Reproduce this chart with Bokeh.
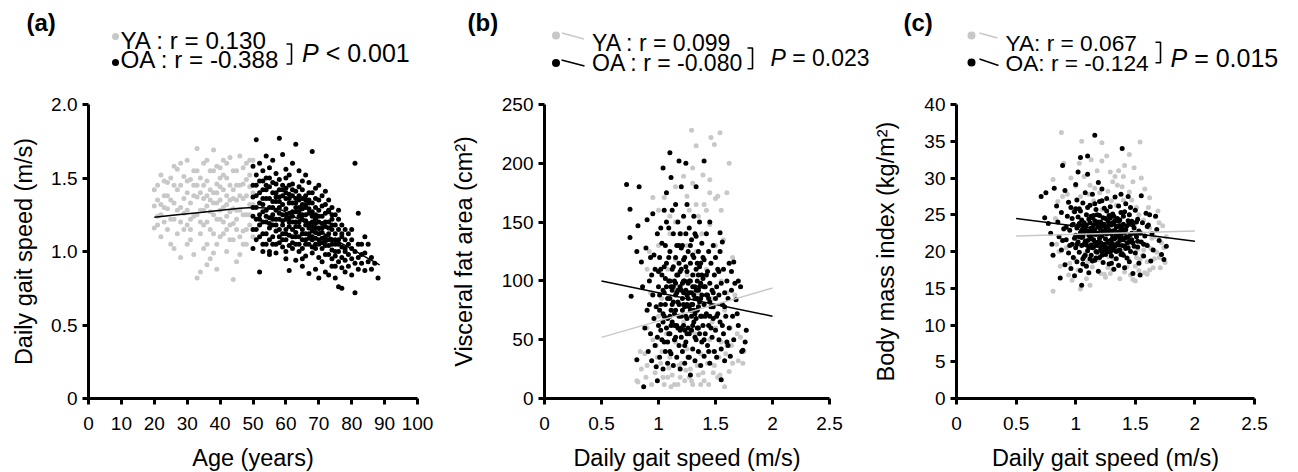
from bokeh.plotting import figure
from bokeh.layouts import row, column
from bokeh.models import Range1d, FixedTicker, Label
from bokeh.embed import file_html
from bokeh.resources import INLINE

# ---------------- data ----------------
# (a) Age (years) vs daily gait speed (m/s)
a_ya = [(20,1.31),(20,1.16),(21,1.45),(21,1.24),(22,1.52),(22,1.10),(23,1.38),(23,1.20),(24,1.29),(24,1.47),
        (25,1.05),(25,1.35),(26,1.58),(26,1.22),(27,1.42),(27,1.12),(28,1.30),(28,0.96),(29,1.51),(29,1.26),
        (30,1.62),(30,1.18),(30,1.40),(31,1.33),(31,1.08),(32,1.55),(32,1.24),(33,1.70),(33,0.82),(33,1.45),
        (34,1.28),(34,0.86),(34,1.12),(35,1.60),(35,1.36),(35,1.02),(36,1.48),(36,1.20),(36,1.31),(37,1.55),
        (37,1.15),(37,0.95),(38,1.69),(38,1.40),(38,1.25),(39,1.33),(39,1.05),(39,0.88),(40,1.57),(40,1.22),
        (40,1.44),(41,1.30),(41,1.12),(41,1.62),(42,1.38),(42,1.00),(42,1.50),(43,1.27),(43,1.18),(43,1.64),
        (44,0.81),(44,1.42),(44,1.08),(45,1.35),(45,1.55),(45,1.22),(46,1.65),(46,1.28),(46,0.98),(47,1.46),
        (47,1.14),(47,1.36),(48,1.60),(48,1.25),(48,1.05),(49,1.52),(49,1.32),(49,1.18),(50,1.40),(50,1.10),
        (50,1.62),(31,1.49),(33,1.37),(35,1.18),(37,1.27),(39,1.58),(41,1.42),(43,1.35),(45,0.93),(47,1.57),
        (49,1.44),(36,0.91),(40,1.10),(44,1.29),(46,1.45),(48,1.38),(28,1.45),(26,1.33),(24,1.15),(22,1.32),
        (38,1.12),(42,1.24),(32,0.98),(29,1.15),(27,1.56),(34,1.50),(36,1.62),(38,0.99),(40,1.35),(42,1.60),
        (44,1.19),(46,1.10),(48,1.49),(30,1.28),(32,1.38),(26,1.02),(23,1.48),(21,1.35),(39,1.46),(45,1.45),
        (20,1.42),(21,1.18),(22,1.25),(23,1.30),(24,1.38),(25,1.22),(25,1.50),(26,1.45),(27,1.28),(28,1.20),
        (29,1.36),(30,1.48),(31,1.22),(32,1.45),(33,1.25),(34,1.40),(35,1.28),(36,1.38),(37,1.42),(38,1.33),
        (39,1.22),(40,1.28),(41,1.52),(42,1.32),(43,1.45),(44,1.36),(45,1.28),(46,1.38),(47,1.25),(48,1.15),
        (49,1.25),(50,1.32),(31,1.15),(33,1.55),(35,1.45),(37,1.35),(39,1.40),(41,1.20),(43,1.08),(45,1.15),
        (47,1.05),(49,1.62),(36,1.05),(40,1.50),(44,1.55),(28,1.60),(30,1.05),(34,1.20),(38,1.55),(42,1.15)]
a_oa = [(50,1.58),(50,1.45),(50,1.30),(50,1.15),(50,1.02),(51,1.76),(51,1.52),(51,1.38),(51,1.22),(51,1.08),
        (52,1.60),(52,1.48),(52,1.33),(52,1.18),(52,0.86),(53,1.55),(53,1.42),(53,1.27),(53,1.12),(53,1.00),
        (54,1.65),(54,1.50),(54,1.36),(54,1.20),(54,1.05),(55,1.57),(55,1.44),(55,1.30),(55,1.16),(55,0.98),
        (56,1.62),(56,1.47),(56,1.34),(56,1.25),(56,1.10),(57,1.53),(57,1.40),(57,1.28),(57,1.14),(57,0.99),
        (58,1.77),(58,1.49),(58,1.37),(58,1.22),(58,1.06),(59,1.66),(59,1.45),(59,1.32),(59,1.18),(59,1.03),
        (60,1.56),(60,1.43),(60,1.29),(60,1.15),(60,0.95),(61,1.52),(61,1.39),(61,1.26),(61,1.11),(61,0.87),
        (62,1.60),(62,1.46),(62,1.33),(62,1.20),(62,1.02),(63,1.73),(63,1.41),(63,1.27),(63,1.13),(63,0.94),
        (64,1.55),(64,1.44),(64,1.30),(64,1.17),(64,1.00),(65,1.48),(65,1.36),(65,1.22),(65,1.08),(65,0.90),
        (66,1.52),(66,1.38),(66,1.25),(66,1.12),(66,0.97),(67,1.47),(67,1.33),(67,1.19),(67,1.05),(67,0.85),
        (68,1.68),(68,1.40),(68,1.27),(68,1.14),(68,0.99),(69,1.43),(69,1.30),(69,1.16),(69,1.02),(69,0.88),
        (70,1.45),(70,1.28),(70,1.12),(70,0.96),(70,0.82),(71,1.38),(71,1.24),(71,1.09),(71,0.93),(72,1.41),
        (72,1.26),(72,1.10),(72,0.98),(72,0.86),(73,1.35),(73,1.20),(73,1.04),(73,0.84),(74,1.30),(74,1.15),
        (74,1.01),(74,0.90),(75,1.25),(75,1.12),(75,0.97),(75,0.82),(76,1.22),(76,1.08),(76,0.93),(76,0.76),
        (77,1.18),(77,1.03),(77,0.89),(77,0.75),(78,1.15),(78,1.02),(78,0.86),(79,1.12),(79,0.98),(80,1.08),
        (80,0.95),(80,0.84),(81,1.60),(81,1.00),(81,0.72),(82,1.26),(82,0.96),(82,0.88),(83,1.05),(83,0.92),
        (84,0.99),(84,0.87),(85,1.05),(85,0.93),(86,0.96),(87,0.92),(88,0.82),(52,1.25),(54,1.28),(56,1.40),
        (58,1.30),(60,1.22),(62,1.10),(64,1.24),(66,1.18),(68,1.20),(53,1.36),(57,1.22),(61,1.33),(63,1.20),
        (65,1.29),(67,1.26),(69,1.09),(55,1.23),(59,1.25),(71,1.16),(73,1.12),(74,1.22),(76,1.00),(78,0.94),
        (80,1.02),(51,1.45),(53,1.20),(55,1.50),(57,1.34),(59,1.12),(61,1.20),(63,1.36),(65,1.15),(67,1.40),
        (69,1.22),(71,1.31),(73,1.27),(75,1.05),(77,1.10),(79,1.05),(50,1.24),(52,1.40),(54,1.12),(56,1.18),
        (58,1.15),(60,1.36),(62,1.27),(64,1.38),(66,1.32),(68,1.08),(70,1.20),(72,1.17),(74,1.08),(76,1.15),
        (50,1.37),(51,1.30),(51,1.15),(52,1.10),(53,1.48),(54,1.42),(55,1.36),(55,1.08),(56,1.30),(57,1.46),
        (57,1.05),(58,1.42),(58,1.26),(59,1.38),(60,1.50),(60,1.08),(61,1.45),(61,1.17),(62,1.38),(62,1.15),
        (63,1.30),(63,1.05),(64,1.35),(64,1.10),(65,1.42),(65,1.02),(66,1.30),(66,1.05),(67,1.12),(67,1.35),
        (68,1.33),(68,1.03),(69,1.36),(69,1.25),(70,1.35),(70,1.05),(71,1.19),(71,1.02),(72,1.32),(72,1.04),
        (73,1.28),(73,0.98),(74,1.25),(74,0.95),(75,1.18),(75,0.90),(76,1.28),(77,1.12),(77,0.96),(78,1.08),
        (79,0.90),(80,1.15),(81,0.92),(82,1.05),(83,0.98),(84,1.10),(86,0.88),(55,1.00),(60,1.00),(65,0.95),
        (52,1.22),(53,1.05),(53,1.32),(54,1.24),(54,1.45),(55,1.19),(56,1.05),(56,1.22),(57,1.18),(57,1.37),
        (58,1.10),(58,1.34),(59,1.08),(59,1.21),(59,1.42),(60,1.12),(60,1.25),(60,1.40),(61,1.04),(61,1.23),
        (61,1.36),(62,1.06),(62,1.24),(62,1.42),(63,1.10),(63,1.17),(63,1.33),(64,1.05),(64,1.20),(64,1.27),
        (65,1.12),(65,1.25),(65,1.32),(66,1.08),(66,1.21),(66,1.35),(67,1.09),(67,1.16),(67,1.29),(68,1.10),
        (68,1.17),(68,1.24),(69,1.05),(69,1.13),(69,1.19),(70,1.08),(70,1.16),(70,1.24),(71,1.06),(71,1.13),
        (72,1.07),(72,1.20),(73,1.08),(73,1.16),(74,1.05),(74,1.18),(75,1.08),(75,1.00),(76,1.05),(78,1.00)]
a_fit_x = [20, 27, 34, 41, 46, 50, 54, 59, 64, 69, 74, 79, 84, 88.5]
a_fit_y = [1.233, 1.250, 1.265, 1.283, 1.295, 1.299, 1.296, 1.280, 1.218, 1.155, 1.090, 1.030, 0.965, 0.909]

# (b) Daily gait speed (m/s) vs visceral fat area (cm2)
b_ya = [(0.82,14),(0.88,38),(0.90,60),(0.92,125),(0.95,171),(0.97,22),(0.98,45),(1.00,160),(1.02,30),(1.03,85),
        (1.05,171),(1.05,12),(1.07,55),(1.08,110),(1.10,35),(1.10,140),(1.12,20),(1.13,75),(1.15,48),(1.15,118),
        (1.17,12),(1.18,95),(1.20,140),(1.20,30),(1.22,189),(1.22,65),(1.23,15),(1.25,105),(1.25,42),(1.27,160),
        (1.28,25),(1.28,80),(1.29,228),(1.30,196),(1.30,183),(1.30,12),(1.32,55),(1.33,165),(1.33,125),(1.33,215),
        (1.35,20),(1.35,90),(1.37,38),(1.38,140),(1.39,190),(1.40,70),(1.40,15),(1.42,110),(1.43,30),(1.45,186),
        (1.45,148),(1.45,50),(1.47,85),(1.48,22),(1.46,222),(1.50,170),(1.50,130),(1.50,60),(1.49,216),(1.52,172),
        (1.53,35),(1.54,226),(1.55,100),(1.55,48),(1.58,10),(1.58,75),(1.60,175),(1.60,45),(1.62,115),(1.63,60),
        (1.62,200),(1.65,30),(1.67,88),(1.70,32),(1.72,52),(1.75,40),(0.85,25),(0.93,90),(1.00,70),(1.08,18),
        (1.15,150),(1.18,28),(1.25,172),(1.27,18),(1.32,105),(1.37,12),(1.42,160),(1.48,40),(1.57,135),(1.62,23),
        (1.12,100),(1.40,95),(0.95,50),(1.20,80),(1.47,65),(0.81,15),(1.11,10),(0.90,28),(1.03,40),(1.52,18),
        (0.84,40),(0.89,18),(0.94,12),(0.99,35),(1.04,18),(1.09,26),(1.14,12),(1.19,18),(1.24,24),(1.29,15),
        (1.34,28),(1.39,22),(1.44,12),(1.49,28),(1.54,20),(1.59,38),(1.64,45),(1.69,55),(1.74,30),(1.60,90),
        (1.65,120),(1.55,160),(1.45,175),(1.35,155),(1.25,130),(1.10,155),(1.00,130),(0.90,110),(1.15,180),(1.40,165)]
b_oa = [(0.72,182),(0.75,161),(0.83,180),(0.75,137),(0.82,147),(0.81,125),(0.85,116),(1.10,209),(1.18,202),(1.24,200),
        (1.40,202),(1.04,196),(1.11,188),(1.20,180),(1.33,180),(1.66,116),(1.54,141),(1.56,133),(0.76,87),(0.81,33),
        (0.87,10),(0.99,15),(1.55,16),(1.74,41),(1.76,48),(1.67,98),(1.70,100),(0.86,95),(0.88,60),(0.89,128),
        (0.90,152),(0.90,75),(0.91,40),(0.92,100),(0.93,120),(0.93,55),(0.94,32),(0.95,88),(0.95,157),(0.96,68),
        (0.97,110),(0.97,45),(0.98,27),(0.99,140),(1.00,95),(1.00,62),(1.01,120),(1.01,35),(1.02,80),(1.02,145),
        (1.03,50),(1.03,105),(1.04,25),(1.04,72),(1.05,160),(1.05,90),(1.06,130),(1.06,40),(1.07,115),(1.07,60),
        (1.07,175),(1.08,85),(1.08,30),(1.09,100),(1.09,145),(1.10,55),(1.10,70),(1.10,125),(1.11,95),(1.11,38),
        (1.12,160),(1.12,110),(1.12,65),(1.13,82),(1.13,140),(1.13,28),(1.14,100),(1.14,50),(1.15,120),(1.15,75),
        (1.15,165),(1.16,90),(1.16,35),(1.16,130),(1.17,60),(1.17,105),(1.17,150),(1.18,45),(1.18,80),(1.18,115),
        (1.19,95),(1.19,25),(1.19,140),(1.20,70),(1.20,110),(1.20,52),(1.21,85),(1.21,130),(1.21,40),(1.22,100),
        (1.22,155),(1.22,62),(1.23,120),(1.23,78),(1.23,30),(1.24,92),(1.24,140),(1.24,48),(1.25,108),(1.25,68),
        (1.25,165),(1.26,85),(1.26,35),(1.26,125),(1.27,55),(1.27,100),(1.27,145),(1.28,75),(1.28,20),(1.28,115),
        (1.29,90),(1.29,58),(1.29,135),(1.30,42),(1.30,105),(1.30,80),(1.31,120),(1.31,65),(1.31,155),(1.32,95),
        (1.32,32),(1.32,72),(1.33,110),(1.33,50),(1.33,138),(1.34,85),(1.34,60),(1.34,100),(1.35,125),(1.35,40),
        (1.35,78),(1.36,95),(1.36,150),(1.36,55),(1.37,115),(1.37,70),(1.37,28),(1.38,88),(1.38,132),(1.38,48),
        (1.39,102),(1.39,62),(1.40,80),(1.40,118),(1.40,36),(1.41,95),(1.41,55),(1.42,140),(1.42,72),(1.43,108),
        (1.43,45),(1.43,88),(1.44,125),(1.44,62),(1.45,98),(1.45,30),(1.45,150),(1.46,78),(1.46,115),(1.47,52),
        (1.47,92),(1.48,130),(1.48,68),(1.49,40),(1.49,105),(1.50,85),(1.50,58),(1.50,120),(1.51,95),(1.51,35),
        (1.52,72),(1.52,110),(1.53,50),(1.53,88),(1.54,125),(1.54,65),(1.55,98),(1.55,42),(1.56,80),(1.57,110),
        (1.57,55),(1.58,90),(1.58,32),(1.59,70),(1.60,100),(1.60,48),(1.61,85),(1.62,60),(1.62,115),(1.63,36),
        (1.64,92),(1.65,70),(1.66,50),(1.68,84),(1.70,62),(1.72,95),(1.73,40),(1.77,58),(1.05,112),(1.15,98),
        (1.25,88),(1.35,105),(1.45,82),(1.10,85),(1.20,92),(1.30,62),(1.40,50),(1.00,108),(0.98,78),(1.23,58),
        (0.96,122),(0.99,52),(1.01,88),(1.03,132),(1.04,65),(1.06,102),(1.08,48),(1.09,120),(1.11,75),(1.13,112),
        (1.14,62),(1.16,105),(1.17,82),(1.19,58),(1.20,128),(1.21,98),(1.22,80),(1.23,45),(1.24,112),(1.25,55),
        (1.26,98),(1.27,78),(1.28,130),(1.29,70),(1.30,122),(1.31,88),(1.32,52),(1.33,92),(1.34,115),(1.35,60),
        (1.36,82),(1.37,98),(1.38,70),(1.39,120),(1.41,70),(1.42,105),(1.44,85),(1.46,60),(1.48,90),(1.51,70),
        (1.53,108),(1.56,62),(1.10,40),(1.15,52),(1.18,130),(1.22,118),(1.27,35),(1.32,140),(1.36,112),(1.12,92),
        (1.05,70),(1.02,110),(0.94,105),(0.92,80),(1.44,40),(1.58,78),(1.61,45),(1.64,108),(1.69,72),(1.07,150),
        (1.01,75),(1.02,58),(1.04,92),(1.05,48),(1.06,80),(1.07,95),(1.08,68),(1.09,55),(1.10,100),(1.11,62),
        (1.12,80),(1.13,95),(1.14,72),(1.15,88),(1.16,62),(1.17,92),(1.18,70),(1.19,108),(1.20,60),(1.21,75),
        (1.22,90),(1.23,100),(1.24,70),(1.25,80),(1.26,60),(1.27,90),(1.28,100),(1.29,80),(1.30,95),(1.31,75),
        (1.32,85),(1.33,68),(1.34,75),(1.35,92),(1.37,85),(1.38,105),(1.40,95),(1.42,88),(1.45,70),(1.48,78)]
b_ya_line_x = [0.5, 2.0]
b_ya_line_y = [52, 94]
b_oa_line_x = [0.5, 2.0]
b_oa_line_y = [100, 70]

# (c) Daily gait speed (m/s) vs body mass index (kg/m2)
c_ya = [(0.88,36.2),(1.05,35.0),(1.22,34.8),(1.54,34.9),(1.45,33.2),(1.22,32.3),(1.49,31.4),(1.29,30.8),(1.33,30.2),(1.41,31.7),
        (0.81,29.8),(1.62,27.3),(1.70,23.9),(1.70,19.2),(0.81,14.6),(1.12,15.4),(1.37,16.3),(1.09,16.3),(1.07,30.2),(1.12,29.0),
        (1.40,30.2),(1.45,28.1),(0.85,26.8),(0.90,23.0),(0.92,20.5),(0.95,18.4),(0.98,25.5),(1.00,21.8),(1.02,17.5),(1.04,27.5),
        (1.06,22.6),(1.08,19.8),(1.10,24.9),(1.12,20.9),(1.14,17.9),(1.15,26.9),(1.17,23.3),(1.19,18.9),(1.20,21.5),(1.22,25.7),
        (1.24,16.9),(1.25,22.0),(1.27,28.2),(1.28,19.3),(1.30,24.2),(1.31,17.6),(1.33,21.0),(1.34,26.3),(1.36,18.2),(1.37,23.7),
        (1.38,20.1),(1.40,27.0),(1.41,17.2),(1.42,22.8),(1.44,19.0),(1.45,25.0),(1.46,16.8),(1.47,21.3),(1.49,23.5),(1.50,18.0),
        (1.51,26.0),(1.52,20.3),(1.53,17.4),(1.55,22.6),(1.56,19.5),(1.57,24.3),(1.58,17.1),(1.59,21.0),(1.60,18.6),(1.62,23.2),
        (1.63,20.4),(1.65,17.8),(1.66,22.0),(1.68,19.9),(1.72,21.2),(1.75,18.5),(0.84,21.0),(0.87,18.0),(0.97,16.1),(1.03,32.0),
        (1.18,31.0),(1.26,33.0),(1.35,29.0),(1.48,29.5),(1.58,28.5),(1.16,28.6),(1.30,26.9),(1.10,18.6),(1.21,17.0),(1.32,19.0),
        (1.43,17.9),(1.54,18.9),(1.61,26.0),(1.67,24.8),(1.73,23.5),(0.93,27.8),(1.00,28.9),(1.36,31.0),(1.27,17.8),(1.48,16.2),
        (0.83,24.5),(0.86,20.0),(0.89,27.5),(0.94,16.8),(0.99,19.0),(1.04,14.9),(1.11,27.8),(1.20,28.0),(1.25,16.5),(1.31,29.5),
        (1.39,28.8),(1.44,21.0),(1.50,16.0),(1.53,25.0),(1.57,20.2),(1.60,16.9),(1.64,21.8),(1.66,19.0),(1.69,25.5),(1.71,17.8),
        (1.74,20.5),(1.76,22.0),(1.55,30.0),(1.47,27.0),(0.90,32.0),(0.96,30.0),(1.13,32.5),(1.29,17.0),(1.62,17.5),(1.51,19.2)]
c_oa = [(1.16,35.8),(1.39,34.0),(1.04,32.8),(1.10,33.0),(0.89,31.7),(1.02,30.8),(1.10,30.5),(0.71,27.5),(0.75,28.0),(0.82,28.6),
        (0.74,24.6),(1.76,20.7),(1.74,18.9),(1.67,24.8),(1.55,27.6),(0.81,19.5),(0.87,16.4),(1.05,15.4),(0.99,16.7),(1.54,16.8),
        (1.00,29.1),(1.19,29.4),(0.91,28.3),(0.94,26.7),(1.44,27.5),(1.62,25.0),(0.84,26.2),(0.77,23.8),(0.79,22.5),(0.80,21.0),
        (0.85,24.0),(0.86,22.0),(0.88,20.2),(0.88,25.3),(0.90,23.1),(0.91,18.2),(0.92,21.6),(0.93,24.8),(0.94,19.8),(0.95,22.9),
        (0.96,26.0),(0.96,17.7),(0.97,21.0),(0.98,23.7),(0.98,19.2),(0.99,25.4),(1.00,22.2),(1.00,20.5),(1.01,27.0),(1.01,18.6),
        (1.02,23.5),(1.02,21.3),(1.03,25.8),(1.03,19.9),(1.04,22.6),(1.04,17.4),(1.05,24.3),(1.05,20.8),(1.06,26.6),(1.06,22.0),
        (1.07,19.3),(1.07,23.9),(1.08,21.4),(1.08,28.0),(1.09,18.0),(1.09,25.0),(1.10,22.8),(1.10,20.1),(1.11,24.4),(1.11,17.1),
        (1.12,21.7),(1.12,26.3),(1.13,23.2),(1.13,19.5),(1.14,27.8),(1.14,22.3),(1.15,20.6),(1.15,24.9),(1.16,18.8),(1.16,23.0),
        (1.17,21.2),(1.17,25.7),(1.18,19.9),(1.18,22.5),(1.19,24.0),(1.19,17.3),(1.20,21.8),(1.20,26.8),(1.21,23.4),(1.21,20.3),
        (1.22,28.5),(1.22,22.1),(1.23,18.5),(1.23,24.6),(1.24,21.0),(1.24,25.9),(1.25,19.6),(1.25,23.3),(1.26,22.4),(1.26,27.2),
        (1.27,20.0),(1.27,24.2),(1.28,18.3),(1.28,22.9),(1.29,21.5),(1.29,26.1),(1.30,23.6),(1.30,19.4),(1.31,25.1),(1.31,21.9),
        (1.32,17.6),(1.32,23.8),(1.33,20.7),(1.33,27.4),(1.34,22.2),(1.34,19.0),(1.35,24.5),(1.35,21.1),(1.36,26.2),(1.36,18.1),
        (1.37,22.7),(1.37,20.2),(1.38,25.3),(1.38,23.0),(1.39,19.7),(1.40,21.6),(1.40,24.8),(1.41,17.8),(1.41,22.6),(1.42,26.5),
        (1.42,20.4),(1.43,23.5),(1.43,19.1),(1.44,21.9),(1.45,25.0),(1.45,18.6),(1.46,22.3),(1.46,20.0),(1.47,24.1),(1.48,21.2),
        (1.48,17.0),(1.49,23.2),(1.50,19.8),(1.50,25.6),(1.51,22.0),(1.52,20.6),(1.52,24.4),(1.53,18.4),(1.53,22.8),(1.55,21.3),
        (1.56,23.9),(1.57,19.4),(1.58,22.1),(1.59,25.2),(1.60,20.8),(1.61,23.6),(1.63,18.7),(1.64,22.4),(1.65,20.2),(1.68,23.0),
        (1.70,21.5),(1.72,19.6),(1.05,21.9),(1.08,23.0),(1.11,20.5),(1.13,21.8),(1.15,22.7),(1.17,19.1),(1.19,21.3),(1.21,22.9),
        (1.23,20.8),(1.25,21.7),(1.27,22.5),(1.29,19.9),(1.31,20.9),(1.33,22.9),(1.35,20.1),(1.37,23.5),(1.39,21.8),(1.41,20.7),
        (1.43,22.0),(1.12,23.9),(1.18,25.0),(1.24,23.7),(1.30,21.2),(1.36,22.0),(1.20,19.2),(1.26,20.5),(1.16,21.3),(1.09,20.9),
        (1.02,24.7),(0.97,23.6),(1.06,19.0),(1.14,24.6),(1.22,20.0),(1.28,24.9),(1.34,23.4),(1.40,19.5),(1.46,23.7),(1.32,21.7),
        (0.95,20.8),(0.97,24.5),(0.99,21.8),(1.01,23.2),(1.03,22.0),(1.04,25.5),(1.06,23.5),(1.07,21.0),(1.08,19.5),(1.10,26.0),
        (1.11,22.2),(1.12,19.0),(1.13,24.8),(1.14,20.5),(1.15,23.6),(1.16,26.5),(1.17,22.3),(1.18,20.8),(1.19,23.4),(1.20,24.9),
        (1.21,21.2),(1.22,19.5),(1.23,22.5),(1.24,20.2),(1.25,24.5),(1.26,25.5),(1.27,21.3),(1.28,23.8),(1.29,20.6),(1.30,22.4),
        (1.31,23.9),(1.32,20.2),(1.33,24.2),(1.34,21.0),(1.35,22.6),(1.36,24.1),(1.37,21.5),(1.38,19.6),(1.39,23.3),(1.40,22.8),
        (1.41,25.4),(1.42,21.9),(1.44,24.2),(1.45,21.3),(1.47,22.5),(1.49,20.7),(1.51,24.0),(1.54,22.5),(1.57,21.0),(1.60,23.4),
        (1.00,25.8),(1.06,18.3),(1.14,18.7),(1.22,26.9),(1.30,18.4),(1.38,27.8),(1.46,26.0),(1.52,21.4),(0.92,23.3),(0.89,21.5),
        (1.01,21.0),(1.03,23.8),(1.05,22.9),(1.07,22.5),(1.09,23.6),(1.10,21.5),(1.12,22.7),(1.13,20.9),(1.15,21.6),(1.16,24.2),
        (1.18,23.8),(1.19,22.4),(1.20,20.8),(1.21,24.0),(1.23,23.5),(1.24,22.7),(1.25,20.6),(1.26,23.0),(1.27,23.4),(1.28,21.2),
        (1.29,24.6),(1.30,20.4),(1.31,22.8),(1.32,24.8),(1.33,21.8),(1.34,20.0),(1.35,23.4),(1.36,20.9),(1.37,24.3),(1.38,22.2),
        (1.39,20.8),(1.40,23.7),(1.42,23.0),(1.43,21.2),(1.44,20.5),(1.45,23.9),(1.47,21.6),(1.48,23.6),(1.50,22.4),(1.17,20.0)]
c_ya_line_x = [0.5, 2.0]
c_ya_line_y = [22.1, 22.8]
c_oa_line_x = [0.5, 2.0]
c_oa_line_y = [24.5, 21.4]

# axes / tick labels
a_xticks = [0, 10, 20, 30, 40, 50, 60, 70, 80, 90, 100]
a_xlabels = ["0", "10", "20", "30", "40", "50", "60", "70", "80", "90", "100"]
a_yticks = [0, 0.5, 1.0, 1.5, 2.0]
a_ylabels = ["0", "0.5", "1.0", "1.5", "2.0"]
g_xticks = [0, 0.5, 1, 1.5, 2, 2.5]
g_xlabels = ["0", "0.5", "1", "1.5", "2", "2.5"]
b_yticks = [0, 50, 100, 150, 200, 250]
b_ylabels = ["0", "50", "100", "150", "200", "250"]
c_yticks = [0, 5, 10, 15, 20, 25, 30, 35, 40]
c_ylabels = ["0", "5", "10", "15", "20", "25", "30", "35", "40"]

panel_tags = ["(a)", "(b)", "(c)"]
ya_text = ["YA : r = 0.130", "YA : r = 0.099", "YA: r = 0.067"]
oa_text = ["OA : r = -0.388", "OA : r = -0.080", "OA: r = -0.124"]
p_text = ["< 0.001", "= 0.023", "= 0.015"]

# ---------------- style ----------------
GREY = "#c8c8c8"
BLACK = "#000000"
FONT = "Liberation Sans"
HEADER_H = 84
TOTAL_W = 1290
TEXT_DY = -8   # correction of the text baseline in the header


def make_fig(xmax, ytop, xticks, xlabels, yticks, ylabels, xlabel, ylabel, left, fw, right, ylab_standoff):
    p = figure(frame_width=fw, frame_height=294, min_border_left=left, min_border_right=right,
               min_border_top=20, min_border_bottom=72, x_range=Range1d(0, xmax), y_range=Range1d(0, ytop),
               output_backend="svg", toolbar_location=None, background_fill_color="white",
               border_fill_color="white")
    p.outline_line_color = None
    p.grid.visible = False
    for ax, ticks, labels in ((p.xaxis[0], xticks, xlabels), (p.yaxis[0], yticks, ylabels)):
        ax.ticker = FixedTicker(ticks=ticks)
        ax.major_label_overrides = {t: l for t, l in zip(ticks, labels)}
        ax.axis_line_width = 3
        ax.major_tick_line_width = 3
        ax.major_tick_in = 0
        ax.major_tick_out = 6
        ax.minor_tick_line_color = None
        ax.major_label_text_font = FONT
        ax.major_label_text_font_size = "19px"
        ax.major_label_text_color = BLACK
        ax.axis_label_text_font = FONT
        ax.axis_label_text_font_size = "23.5px"
        ax.axis_label_text_font_style = "normal"
        ax.axis_label_text_color = BLACK
    p.xaxis[0].axis_label = xlabel
    p.yaxis[0].axis_label = ylabel
    p.xaxis[0].major_label_standoff = 12
    p.yaxis[0].major_label_standoff = 5
    p.xaxis[0].axis_label_standoff = 12
    p.yaxis[0].axis_label_standoff = ylab_standoff
    return p


def add_points(p, ya, oa):
    p.scatter([v[0] for v in ya], [v[1] for v in ya], size=5, color=GREY, line_color=None)
    p.scatter([v[0] for v in oa], [v[1] for v in oa], size=5, color=BLACK, line_color=None)


# ---------------- header (panel tags, r values, P values) ----------------
hdr = figure(width=TOTAL_W, height=HEADER_H, x_range=Range1d(0, TOTAL_W), y_range=Range1d(HEADER_H, 0),
             x_axis_type=None, y_axis_type=None, min_border=0, output_backend="svg",
             toolbar_location=None, background_fill_color="white", border_fill_color="white")
hdr.outline_line_color = None
hdr.grid.visible = False


def lab(x, y, txt, size, style="normal"):
    hdr.add_layout(Label(x=x, y=y + TEXT_DY, text=txt, text_font=FONT, text_font_size=f"{size}px",
                         text_font_style=style, text_color=BLACK, text_align="left",
                         text_baseline="alphabetic"))


def header(tag, tag_x, ya_s, oa_s, p_s, rsize, psize, dot_x, dot_y1, dot_y2, dot_size, line_pts,
           tx, b1, b2, bx, bt, bb, px, pb):
    lab(tag_x, 30, tag, 24, "bold")
    hdr.scatter([dot_x], [dot_y1], size=dot_size, color=GREY, line_color=None)
    hdr.scatter([dot_x], [dot_y2], size=dot_size, color=BLACK, line_color=None)
    if line_pts:
        (gx0, gy0, gx1, gy1), (kx0, ky0, kx1, ky1) = line_pts
        hdr.line([gx0, gx1], [gy0, gy1], line_color=GREY, line_width=1.6)
        hdr.line([kx0, kx1], [ky0, ky1], line_color=BLACK, line_width=1.6)
    lab(tx, b1, ya_s, rsize)
    lab(tx, b2, oa_s, rsize)
    hdr.line([bx - 5, bx, bx, bx - 5], [bt, bt, bb, bb], line_color=BLACK, line_width=1.6)
    lab(px, pb, "P", psize, "italic")
    lab(px + 0.945 * psize, pb, p_s, psize)


header(panel_tags[0], 26, ya_text[0], oa_text[0], p_text[0], 24.2, 25, 115, 36, 62, 7, None,
       120, 48, 66.5, 291, 43.5, 63.5, 301.5, 60.7)
header(panel_tags[1], 467, ya_text[1], oa_text[1], p_text[1], 23, 23, 555.5, 35, 62.5, 8,
       ((561.5, 32.5, 583.5, 38.5), (561, 59.5, 584, 65.5)),
       591.5, 50, 70.5, 752, 47.5, 68.3, 770, 65)
header(panel_tags[2], 903, ya_text[2], oa_text[2], p_text[2], 22.7, 25, 971, 35, 62, 8,
       ((979, 32.5, 997, 37.5), (979, 58.5, 998, 65)),
       1005, 50, 70, 1160, 41.7, 62.3, 1170, 65)

# ---------------- panel (a) ----------------
pa = make_fig(100, 2.0, a_xticks, a_xlabels, a_yticks, a_ylabels, "Age (years)", "Daily gait speed (m/s)",
              88, 329, 23, 11)
add_points(pa, a_ya, a_oa)
pa.line(a_fit_x, a_fit_y, line_color=BLACK, line_width=1.5)

# ---------------- panel (b) ----------------
pb = make_fig(2.5, 250, g_xticks, g_xlabels, b_yticks, b_ylabels, "Daily gait speed (m/s)",
              "Visceral fat area (cm²)", 104, 285, 41, 22)
add_points(pb, b_ya, b_oa)
pb.line(b_oa_line_x, b_oa_line_y, line_color=BLACK, line_width=1.5)
pb.line(b_ya_line_x, b_ya_line_y, line_color=GREY, line_width=1.5)

# ---------------- panel (c) ----------------
pc = make_fig(2.5, 40, g_xticks, g_xlabels, c_yticks, c_ylabels, "Daily gait speed (m/s)",
              "Body mass index (kg/m²)", 85, 298, 37, 22)
add_points(pc, c_ya, c_oa)
pc.line(c_oa_line_x, c_oa_line_y, line_color=BLACK, line_width=1.5)
pc.line(c_ya_line_x, c_ya_line_y, line_color=GREY, line_width=1.5)

layout = column(hdr, row(pa, pb, pc))
open("out.html", "w").write(file_html(layout, INLINE))
